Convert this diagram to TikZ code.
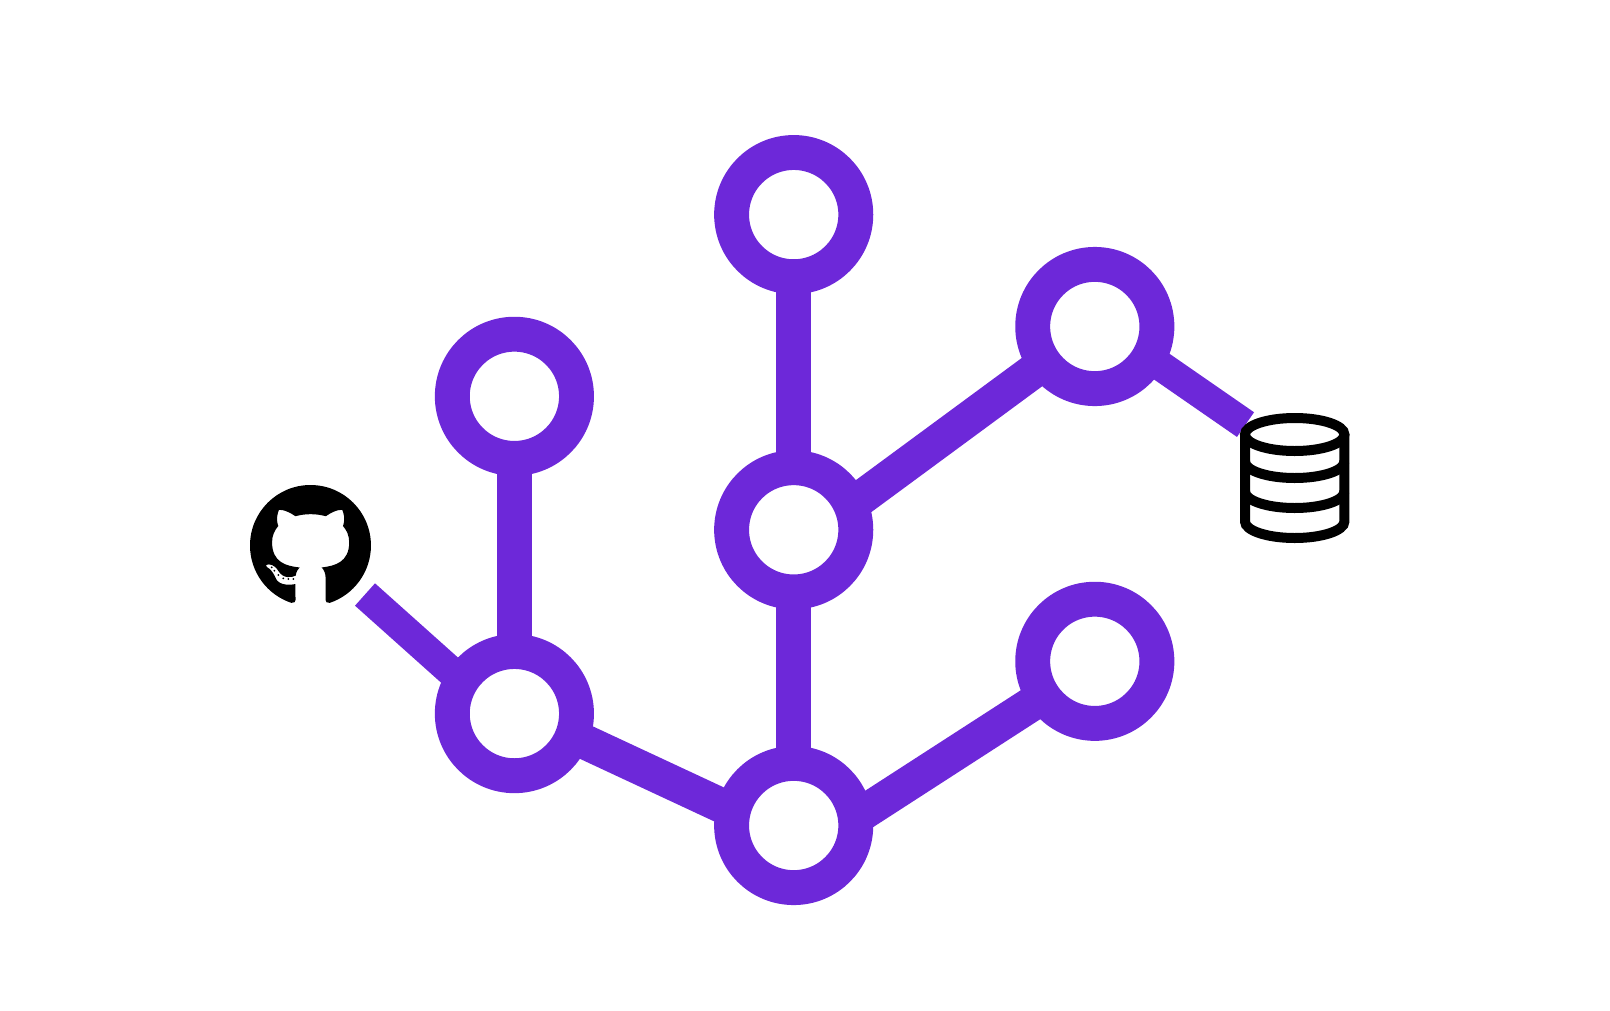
\documentclass[tikz,border=0pt]{standalone}
\usetikzlibrary{svg.path}
\usetikzlibrary{backgrounds}
\definecolor{ringcolor}{HTML}{6D28D9}
\tikzset{ring/.style = {circle, draw = ringcolor, fill = white, line width = 34.9pt, inner sep = 0, minimum size = 124.2pt}}
\tikzset{branch/.style = {draw = ringcolor, line width = 34.9pt, shorten < = -20pt, shorten > = -20pt}}
\tikzset{thinbranch/.style = {draw = ringcolor, line width = 30pt}}
\tikzset{dbline/.style = {draw = black, line width = 10pt}}
\begin{document}
\begin{tikzpicture}[x = 1pt, y = -1pt]
  \useasboundingbox (0, 0) rectangle (1610, 1010);
  \node [ring] (top) at (793.7, 214.6) {};
  \node [ring] (upper) at (793.7, 529.8) {};
  \node [ring] (root) at (793.7, 825.5) {};
  \node [ring] (left) at (514.4, 713.6) {};
  \node [ring] (lefttop) at (514.4, 396.3) {};
  \node [ring] (righttop) at (1094.8, 326.5) {};
  \node [ring] (rightlow) at (1094.8, 661.3) {};
  \coordinate (repo) at (365, 594.5);
  \coordinate (store) at (1245.5, 424.6);
  \begin{pgfonlayer}{background}
    \draw [branch] (top.south) -- (upper.north);
    \draw [branch] (upper.south) -- (root.north);
    \draw [branch] (lefttop.south) -- (left.north);
    \draw [branch] (left.-22.5) -- (root.164.7);
    \draw [branch] (root.13.1) -- (rightlow.214.3);
    \draw [branch] (upper.26.6) -- (righttop.216.3);
    \draw [thinbranch, shorten > = -20pt] (repo) -- (left.146.7);
    \draw [thinbranch, shorten < = -20pt] (righttop.-31) -- (store);
  \end{pgfonlayer}
  \fill [shift = {(250, 485)}, xscale = 7.56, yscale = -7.56] svg {M 8 0 C 3.58 0 0 3.58 0 8 c 0 3.54 2.29 6.53 5.47 7.59 0.4 0.07 0.55 -0.17 0.55 -0.38 0 -0.19 -0.01 -1.44 -0.01 -2.11 -2.01 0.37 -2.53 -0.49 -2.69 -0.94 -0.09 -0.23 -0.48 -0.94 -0.82 -1.13 -0.28 -0.15 -0.68 -0.52 -0.01 -0.53 0.63 -0.01 1.08 0.58 1.23 0.82 0.72 1.21 1.87 0.87 2.33 0.66 0.07 -0.52 0.28 -0.87 0.51 -1.07 -1.78 -0.2 -3.64 -0.66 -3.64 -3.33 0 -0.87 0.31 -1.59 0.82 -2.15 -0.08 -0.2 -0.36 -1.02 0.08 -2.12 0 0 0.67 -0.21 2.2 0.82 0.64 -0.18 1.32 -0.27 2 -0.27 0.68 0 1.36 0.09 2 0.27 1.53 -1.04 2.2 -0.82 2.2 -0.82 0.44 1.1 0.16 1.92 0.08 2.12 0.51 0.56 0.82 1.27 0.82 2.15 0 2.63 -1.87 3.12 -3.65 3.33 0.29 0.25 0.54 0.73 0.54 1.48 0 1.69 -0.01 2.55 -0.01 2.82 0 0.21 0.15 0.46 0.55 0.38 C 13.71 14.53 16 11.53 16 8 c 0 -4.42 -3.58 -8 -8 -8 z};
  \foreach \x/\y in {271.7/567.3, 274.3/570.7, 278.3/575, 283.3/578.3, 288.3/579, 293.3/579}
    \fill (\x, \y) circle [radius = 1];
  \draw [dbline] (1294.7, 434.5) ellipse [x radius = 49.7, y radius = 16.5];
  \draw [dbline] (1245, 434.5) -- (1245, 521.5) arc [start angle = 180, end angle = 360, x radius = 49.7, y radius = -16.5] -- (1344.4, 434.5);
  \foreach \y in {461.5, 491.5}
    \draw [dbline] (1245, \y) arc [start angle = 180, end angle = 360, x radius = 49.7, y radius = -16.5];
\end{tikzpicture}
\end{document}
